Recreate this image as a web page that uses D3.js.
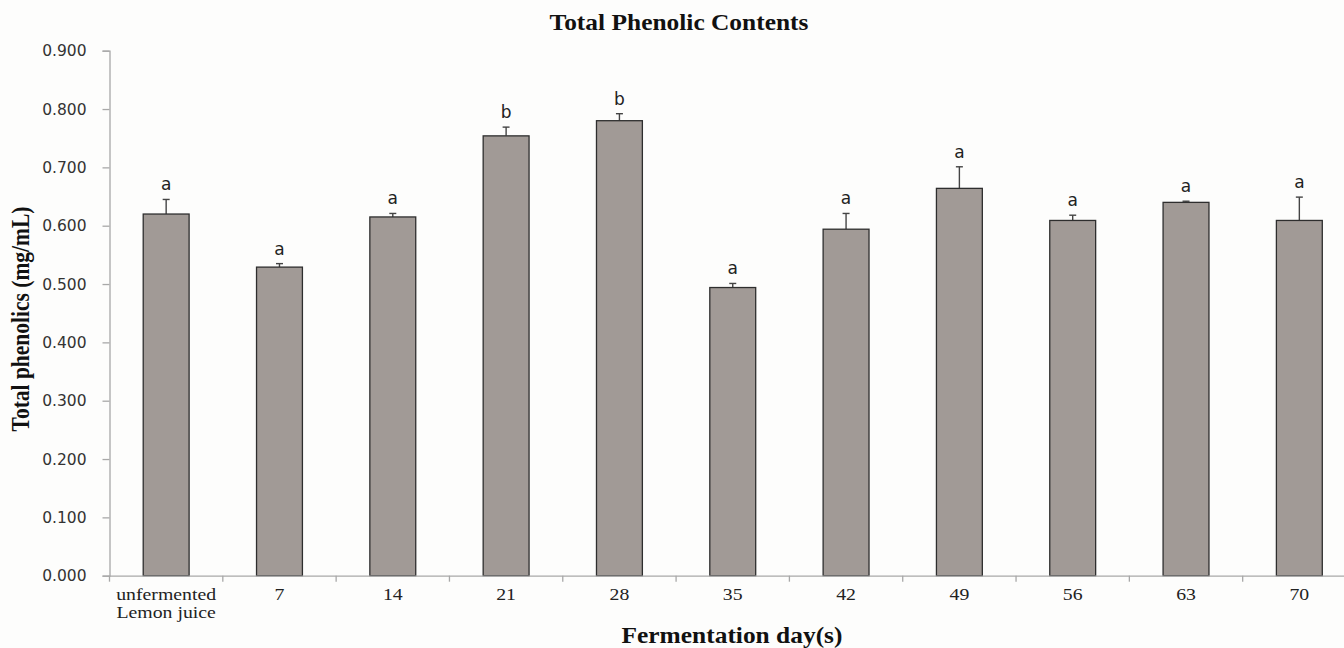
<!DOCTYPE html>
<html><head><meta charset="utf-8">
<script src="https://cdn.jsdelivr.net/npm/d3@7"></script>
<style>body{margin:0;background:#fdfdfc;}svg{display:block;}</style>
</head><body>
<svg id="chart" width="1344" height="648"></svg>
<script>
const categories = ["unfermented\nLemon juice","7","14","21","28","35","42","49","56","63","70"];
const values = [0.620,0.529,0.615,0.754,0.780,0.494,0.594,0.664,0.609,0.640,0.609];
const errors = [0.025,0.006,0.006,0.015,0.012,0.007,0.027,0.037,0.009,0.002,0.040];
const letters = ["a","a","a","b","b","a","a","a","a","a","a"];
const yTicks = [0,0.1,0.2,0.3,0.4,0.5,0.6,0.7,0.8,0.9];

const svg = d3.select("#chart");
svg.append("rect").attr("width",1344).attr("height",648).attr("fill","#fdfdfc");
const x = d3.scaleBand().domain(categories).range([109.5,1356]).padding(0);
const y = d3.scaleLinear().domain([0,0.9]).range([575.7,50.7]);
const serif = "'Liberation Serif','Times New Roman',serif";
const sans = "'DejaVu Sans',Verdana,sans-serif";
const SX = 1.13;

// Y axis
const ya = svg.append("g").attr("transform","translate(109.5,0)")
  .call(d3.axisLeft(y).tickValues(yTicks).tickFormat(d3.format(".3f")).tickSize(7).tickPadding(16));
ya.select(".domain").attr("stroke","#a8a8a8").attr("stroke-width",1.3);
ya.selectAll(".tick line").attr("stroke","#a8a8a8").attr("stroke-width",1.3);
ya.selectAll(".tick text").attr("font-family",sans).attr("font-size",15.5).attr("fill","#333");

// bars
const bw = x.bandwidth()*0.405;
const g = svg.append("g");
categories.forEach((c,i)=>{
  const cx = x(c)+x.bandwidth()/2;
  g.append("line").attr("x1",cx).attr("x2",cx).attr("y1",y(values[i])).attr("y2",y(values[i]+errors[i]))
    .attr("stroke","#444").attr("stroke-width",1.4);
  g.append("line").attr("x1",cx-3.5).attr("x2",cx+3.5).attr("y1",y(values[i]+errors[i])).attr("y2",y(values[i]+errors[i]))
    .attr("stroke","#444").attr("stroke-width",1.4);
  g.append("rect").attr("x",cx-bw/2).attr("y",y(values[i])).attr("width",bw).attr("height",y(0)-y(values[i]))
    .attr("fill","#a19a96").attr("stroke","#2e2e2e").attr("stroke-width",1.3);
  g.append("text").attr("x",cx).attr("y",y(values[i]+errors[i])-9).attr("text-anchor","middle")
    .attr("font-family",sans).attr("font-size",17).attr("fill","#222").text(letters[i]);
});

// X axis
const xa = svg.append("g").attr("transform","translate(0,575.7)")
  .call(d3.axisBottom(x).tickSize(0).tickFormat(""));
xa.select(".domain").attr("stroke","#a8a8a8").attr("stroke-width",1.3);
xa.selectAll(".tick").remove();
const bounds = categories.slice(1).map(c=>x(c)).concat([x.range()[0]]);
xa.selectAll("line.bt").data(bounds).enter().append("line").attr("class","bt")
  .attr("x1",d=>d).attr("x2",d=>d).attr("y1",0).attr("y2",6).attr("stroke","#a8a8a8").attr("stroke-width",1.3);
categories.forEach(c=>{
  const cx = x(c)+x.bandwidth()/2;
  const lines = c.split("\n");
  lines.forEach((l,j)=>{
    svg.append("text").attr("transform",`translate(${cx},${600+j*18}) scale(${SX},1)`)
      .attr("text-anchor","middle").attr("font-family",serif).attr("font-size",17.5).attr("fill","#222").text(l);
  });
});

// titles
svg.append("text").attr("transform",`translate(679,30) scale(${SX},1)`).attr("text-anchor","middle")
  .attr("font-family",serif).attr("font-weight","bold").attr("font-size",22.5).attr("fill","#111").text("Total Phenolic Contents");
svg.append("text").attr("transform",`translate(732,643) scale(${SX},1)`).attr("text-anchor","middle")
  .attr("font-family",serif).attr("font-weight","bold").attr("font-size",22.5).attr("fill","#111").text("Fermentation day(s)");
svg.append("text").attr("transform",`translate(29,319) scale(${SX},1) rotate(-90)`).attr("text-anchor","middle")
  .attr("font-family",serif).attr("font-weight","bold").attr("font-size",21.5).attr("fill","#111").text("Total phenolics (mg/mL)");
</script>
</body></html>
